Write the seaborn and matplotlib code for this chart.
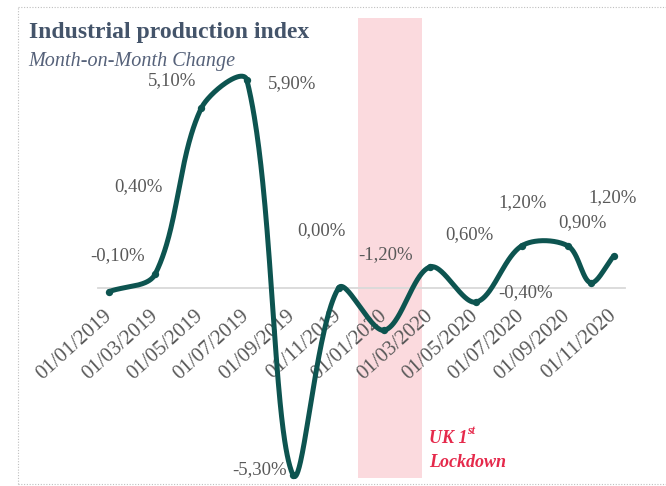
import numpy as np
import pandas as pd
import matplotlib
matplotlib.use("Agg")
import matplotlib.pyplot as plt
import matplotlib.transforms as mtransforms
from matplotlib.lines import Line2D
import seaborn as sns

# ---------------- data ----------------
periods = ["2019-01", "2019-03", "2019-05", "2019-07", "2019-09", "2019-11",
           "2020-01", "2020-03", "2020-05", "2020-07", "2020-09", "2020-10", "2020-11"]
mom_change = [-0.1, 0.4, 5.1, 5.9, -5.3, 0.0, -1.2, 0.6, -0.4, 1.2, 1.2, 0.15, 0.9]

tick_labels = ["01/01/2019", "01/03/2019", "01/05/2019", "01/07/2019", "01/09/2019",
               "01/11/2019", "01/01/2020", "01/03/2020", "01/05/2020", "01/07/2020",
               "01/09/2020", "01/11/2020"]

value_labels = ["-0,10%", "0,40%", "5,10%", "5,90%", "0,00%", "-5,30%",
                "-1,20%", "0,60%", "-0,40%", "1,20%", "0,90%", "1,20%"]
# label layout (month-axis position, value-axis position)
label_x = [0.87, 1.75, 3.23, 8.47, 9.73, 7.03, 12.57, 16.19, 18.64, 18.55, 21.13, 22.44]
label_y = [0.91, 2.87, 5.88, 5.82, 1.62, -5.17, 0.94, 1.53, -0.14, 2.44, 1.87, 2.58]

lockdown_start, lockdown_end = 11.35, 14.14   # months since Jan 2019

# ---------------- styling ----------------
sns.set_style("white")
plt.rcParams["font.family"] = ["Liberation Serif", "DejaVu Serif"]

LINE = "#0d5450"
GREY_TXT = "#595959"
AXIS_C = "#d9d9d9"

per = pd.PeriodIndex(periods, freq="M")
xm = (per.year - 2019) * 12 + (per.month - 1) + 0.5
df = pd.DataFrame({"x": np.asarray(xm, dtype=float), "y": mom_change})

W, H = 666, 486
ax_left, ax_right, ax_top, ax_bot = 98, 625, 18, 482
y0_px, per_pct = 288.0, 35.2
px_per_month = (ax_right - ax_left) / 23.0

# smoothed line (Bezier with chord-length scaled tangents, computed in screen space)
P = np.column_stack([df["x"] * px_per_month, df["y"] * per_pct])
n = len(P)
ctrl_in = P.copy()
ctrl_out = P.copy()
for i in range(n):
    prv = P[i - 1] if i > 0 else P[i]
    nxt = P[i + 1] if i < n - 1 else P[i]
    d = nxt - prv
    l_in = np.linalg.norm(P[i] - prv)
    l_out = np.linalg.norm(nxt - P[i])
    tot = l_in + l_out
    if tot == 0:
        continue
    ctrl_in[i] = P[i] - d * (l_in / tot) / 3.0
    ctrl_out[i] = P[i] + d * (l_out / tot) / 3.0
tt = np.linspace(0, 1, 80)[:, None]
segs = []
for i in range(n - 1):
    p1, c1, c2, p2 = P[i], ctrl_out[i], ctrl_in[i + 1], P[i + 1]
    segs.append((1 - tt) ** 3 * p1 + 3 * (1 - tt) ** 2 * tt * c1
                + 3 * (1 - tt) * tt ** 2 * c2 + tt ** 3 * p2)
curve = np.vstack(segs)
curve_x = curve[:, 0] / px_per_month
curve_y = curve[:, 1] / per_pct

fig = plt.figure(figsize=(W / 100, H / 100), dpi=100)
ax = fig.add_axes([ax_left / W, (H - ax_bot) / H, (ax_right - ax_left) / W, (ax_bot - ax_top) / H])
ax.set_ylim(-(ax_bot - y0_px) / per_pct, (y0_px - ax_top) / per_pct)
ax.set_xlim(0, 23)

# lockdown band
band_bottom = (ax_bot - 478) / (ax_bot - ax_top)
ax.axvspan(lockdown_start, lockdown_end, ymin=band_bottom, ymax=1,
           color="#fbdade", lw=0, zorder=0)

ax.plot(curve_x, curve_y, color=LINE, lw=3.6, solid_capstyle="round", zorder=3)
sns.scatterplot(data=df, x="x", y="y", ax=ax, color=LINE, s=28, edgecolor=LINE,
                linewidth=0, zorder=4, legend=False)

# axes cosmetics
for s in ["left", "right", "top"]:
    ax.spines[s].set_visible(False)
ax.spines["bottom"].set_position(("data", 0))
ax.spines["bottom"].set_color(AXIS_C)
ax.spines["bottom"].set_linewidth(1.3)
ax.set_yticks([])
ax.set_xticks(np.arange(0, 23, 2))
ax.set_xticklabels(tick_labels, rotation=42, ha="right", va="top",
                   rotation_mode="anchor", fontsize=15, color=GREY_TXT)
ax.tick_params(axis="x", direction="out", length=4, width=1.2, color=AXIS_C, pad=9)
offset = mtransforms.ScaledTranslation(5 / 100, 0, fig.dpi_scale_trans)
for lab in ax.get_xticklabels():
    lab.set_transform(lab.get_transform() + offset)
ax.set_xlabel("")
ax.set_ylabel("")
ax.patch.set_alpha(0)

# data labels
for t, lx, ly in zip(value_labels, label_x, label_y):
    ax.text(lx, ly, t, ha="center", va="center", fontsize=13.5, color=GREY_TXT, zorder=5)

# lockdown annotation
RED = "#e5294b"
ax.text(14.45, -4.40, "UK 1", ha="left", va="baseline", fontsize=13, color=RED,
        fontweight="bold", fontstyle="italic")
ax.text(16.12, -4.15, "st", ha="left", va="baseline", fontsize=8.5, color=RED,
        fontweight="bold", fontstyle="italic")
ax.text(14.45, -5.09, "Lockdown", ha="left", va="baseline", fontsize=13, color=RED,
        fontweight="bold", fontstyle="italic")

# titles
fig.text(29 / W, 1 - 38 / H, "Industrial production index", ha="left", va="baseline",
         fontsize=17, fontweight="bold", color="#44546a")
fig.text(28 / W, 1 - 66 / H, "Month-on-Month Change", ha="left", va="baseline",
         fontsize=14.5, fontstyle="italic", color="#56627a")

# dotted chart border
bc = "#bfbfbf"
L, R, T, B = 18 / W, 1.0, 1 - 7 / H, 1 - 484 / H
for xs, ys in [([L, R], [T, T]), ([L, L], [B, T]), ([L, R], [B, B])]:
    fig.add_artist(Line2D(xs, ys, transform=fig.transFigure, color=bc, lw=0.8,
                          linestyle=(0, (1, 1.5))))

fig.savefig("out.png", dpi=100)
